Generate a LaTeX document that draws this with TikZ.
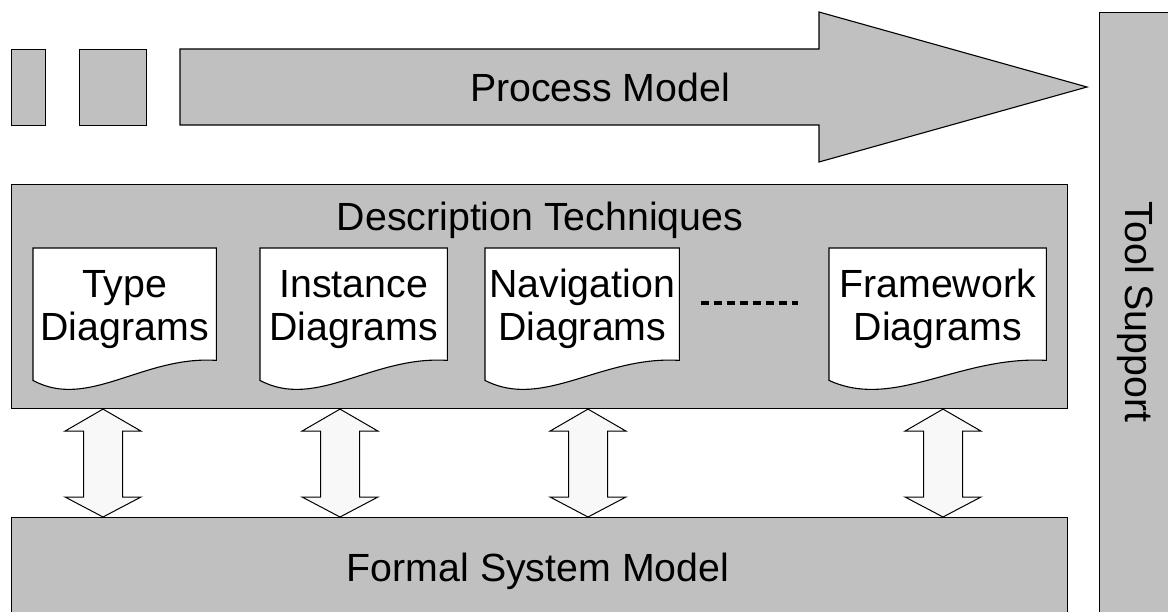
\documentclass[tikz,border=0pt]{standalone}
\usepackage{fontspec}
\setmainfont{Liberation Sans}
\usetikzlibrary{calc}
\definecolor{boxgray}{HTML}{C0C0C0}
\definecolor{arrowfill}{HTML}{F8F8F8}
\tikzset{
  outline/.style={draw=black, line width=1.1pt, line join=miter},
  graybox/.style={outline, fill=boxgray, rectangle, inner sep=0pt, anchor=north west},
  docbox/.style={rectangle, inner sep=0pt, anchor=north west, minimum height=112pt},
  docshape/.style={outline, fill=white},
  lbl/.style={inner sep=0pt, font=\fontsize{39.3pt}{43pt}\selectfont},
  doclabel/.style={lbl, align=center},
  linkarrow/.style={outline, line width=1pt, fill=arrowfill},
  ellipsis/.style={line width=4pt, dash pattern=on 8pt off 5pt},
}
\begin{document}
\begin{tikzpicture}[x=1pt, y=-1pt]
\useasboundingbox (0,0) rectangle (1168,612);
\clip (0,0) rectangle (1168,612);

% process model: two leading blocks and the long arrow
\node[graybox, minimum width=34pt, minimum height=76pt] (s1) at (11,49) {};
\node[graybox, minimum width=67pt, minimum height=76pt] (s2) at (79,49) {};
\draw[outline, fill=boxgray] (180,49) -- (819,49) -- (819,12) -- (1087,87)
  -- (819,162) -- (819,125) -- (180,125) -- cycle;
\node[lbl, anchor=base] (pm) at (600,102) {Process Model};

% tool support column
\node[graybox, minimum width=100pt, minimum height=640pt] (tool) at (1099,12) {};
\node[lbl, rotate=-90, anchor=base] (tooltext) at (1125,312) {Tool Support};

% description techniques
\node[graybox, minimum width=1056pt, minimum height=224pt] (desc) at (11,184) {};
\node[lbl, anchor=base] (desctext) at (540,231) {Description Techniques};

\foreach \n/\x/\w in {d1/33/183, d2/260/187, d3/485/194, d4/829/217} {
  \node[docbox, minimum width=\w pt] (\n) at (\x,248) {};
  \draw[docshape] (\n.north west) -- (\n.north east) -- (\n.south east)
    .. controls ($(\n.south west)!0.6!(\n.south east)+(0,-5)$)
       and ($(\n.south west)!0.3!(\n.south east)+(0,50)$)
    .. ($(\n.south west)+(0,20)$) -- cycle;
}
\node[doclabel] (d1t) at ([yshift=-5pt]d1.center) {Type\\Diagrams};
\node[doclabel] (d2t) at ([yshift=-5pt]d2.center) {Instance\\Diagrams};
\node[doclabel] (d3t) at ([yshift=-5pt]d3.center) {Navigation\\Diagrams};
\node[doclabel] (d4t) at ([yshift=-5pt]d4.center) {Framework\\Diagrams};

\draw[ellipsis] (701,303) -- (798,303);

% formal system model
\node[graybox, minimum width=1056pt, minimum height=120pt] (formal) at (11,517) {};
\node[lbl, anchor=base] (formaltext) at (538,581) {Formal System Model};

% two-way links between the layers
\foreach \n/\x in {a/103, b/340, c/588, d/943} {
  \coordinate (x\n) at (\x,0);
  \coordinate (t\n) at (desc.south -| x\n);
  \coordinate (b\n) at (formal.north -| x\n);
  \draw[linkarrow] (t\n) -- ([shift={(38,22)}]t\n) -- ([shift={(19.5,22)}]t\n)
    -- ([shift={(19.5,-20)}]b\n) -- ([shift={(38,-20)}]b\n) -- (b\n)
    -- ([shift={(-38,-20)}]b\n) -- ([shift={(-19.5,-20)}]b\n)
    -- ([shift={(-19.5,22)}]t\n) -- ([shift={(-38,22)}]t\n) -- cycle;
}
\end{tikzpicture}
\end{document}
